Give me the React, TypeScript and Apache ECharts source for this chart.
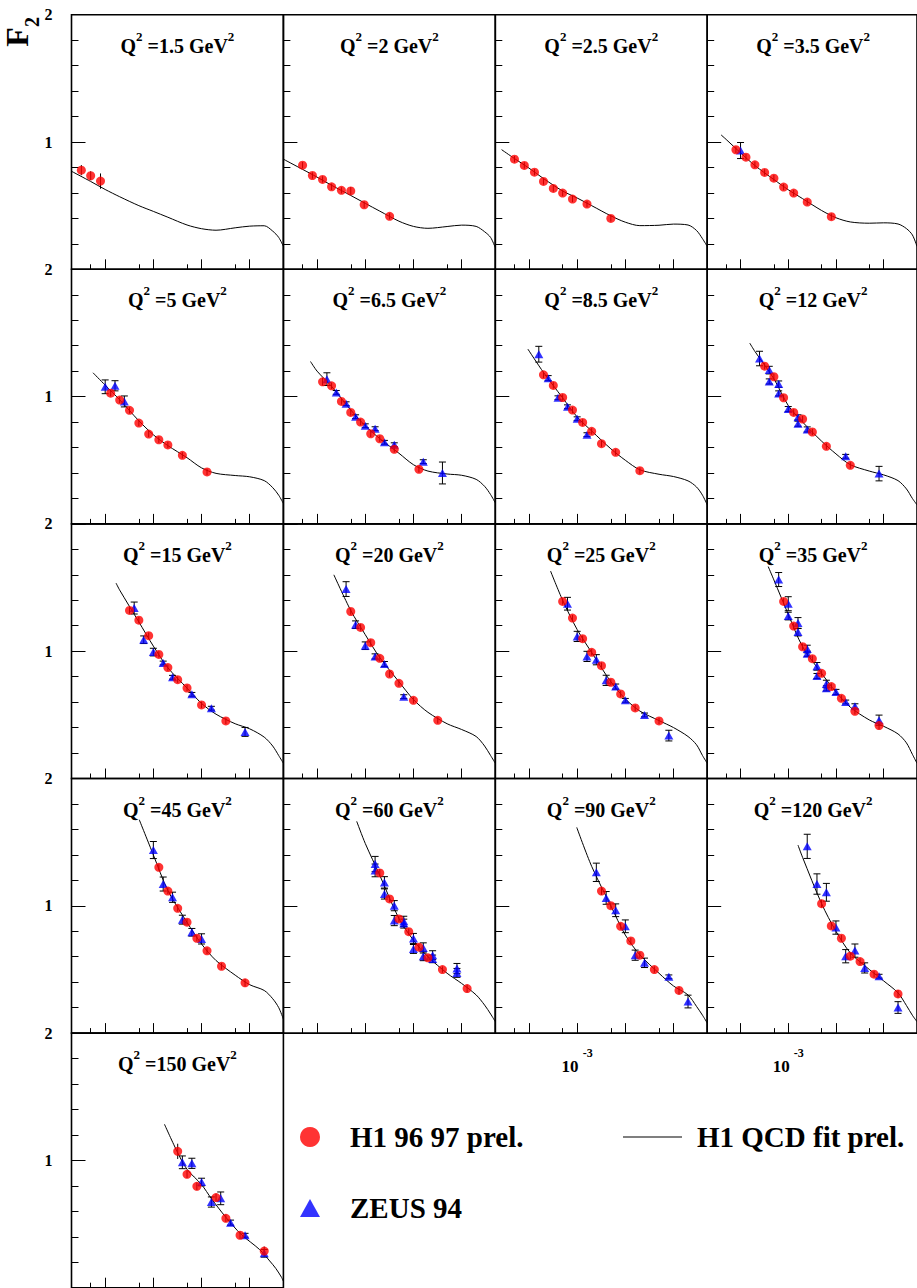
import React, { useEffect, useRef } from 'react';
import * as echarts from 'echarts';

// ---------- axis definitions ----------
const X_MIN = 2e-5;
const X_MAX = 0.5;
const X_MAJOR_TICKS = [1e-4, 1e-3, 1e-2, 1e-1];
const X_MINOR_TICKS = [5e-5, 5e-4, 5e-3, 5e-2];
const X_LABEL_TICKS = [1e-3];
const Y_MIN = 0;
const Y_MAX = 2;
const Y_MAJOR_STEP = 1;
const Y_MINOR_SPLIT = 5;

// ---------- data: [x, F2, error] for points, [x, F2] for the fit ----------
const H1_1_5 = [[3.2e-5, 0.779, 0.04], [5e-5, 0.735, 0.035], [8e-5, 0.693, 0.06]];
const ZEUS_1_5: number[][] = [];
const FIT_1_5 = [[2e-5, 0.77], [5e-5, 0.69], [1e-4, 0.627], [2e-4, 0.57], [5e-4, 0.5], [1e-3, 0.455], [2e-3, 0.409], [5e-3, 0.348], [1e-2, 0.319], [2e-2, 0.307], [5e-2, 0.326], [0.1, 0.339], [0.2, 0.342], [0.3, 0.3], [0.4, 0.25], [0.5, 0.18]];

const H1_2 = [[5e-5, 0.818, 0.025], [8e-5, 0.737, 0.025], [1.3e-4, 0.706, 0.025], [2e-4, 0.648, 0.025], [3.2e-4, 0.62, 0.025], [5e-4, 0.616, 0.03], [9.5e-4, 0.507, 0.025], [3.2e-3, 0.416, 0.025]];
const ZEUS_2: number[][] = [];
const FIT_2 = [[2e-5, 0.865], [5e-5, 0.785], [1e-4, 0.724], [2e-4, 0.66], [5e-4, 0.58], [1e-3, 0.518], [2e-3, 0.457], [5e-3, 0.378], [1e-2, 0.337], [2e-2, 0.322], [5e-2, 0.336], [0.1, 0.347], [0.2, 0.337], [0.3, 0.295], [0.4, 0.25], [0.5, 0.17]];

const H1_2_5 = [[5e-5, 0.865, 0.025], [8e-5, 0.816, 0.025], [1.3e-4, 0.763, 0.025], [2e-4, 0.69, 0.025], [3.2e-4, 0.635, 0.025], [5e-4, 0.599, 0.025], [8e-4, 0.552, 0.025], [1.6e-3, 0.512, 0.025], [5e-3, 0.4, 0.025]];
const ZEUS_2_5: number[][] = [];
const FIT_2_5 = [[2.7e-5, 0.94], [5e-5, 0.87], [1e-4, 0.795], [2e-4, 0.713], [5e-4, 0.615], [1e-3, 0.56], [2e-3, 0.5], [5e-3, 0.42], [1e-2, 0.37], [2e-2, 0.343], [5e-2, 0.346], [0.1, 0.355], [0.2, 0.348], [0.3, 0.305], [0.4, 0.24], [0.5, 0.18]];

const H1_3_5 = [[8e-5, 0.939, 0.025], [1.3e-4, 0.881, 0.025], [2e-4, 0.821, 0.025], [3.2e-4, 0.761, 0.025], [5e-4, 0.716, 0.025], [8e-4, 0.646, 0.025], [1.3e-3, 0.599, 0.025], [2.5e-3, 0.528, 0.025], [8e-3, 0.413, 0.025]];
const ZEUS_3_5 = [[1e-4, 0.933, 0.063]];
const FIT_3_5 = [[3.9e-5, 1.056], [5e-5, 1.02], [1e-4, 0.915], [2e-4, 0.815], [5e-4, 0.705], [1e-3, 0.625], [2e-3, 0.555], [5e-3, 0.462], [1e-2, 0.405], [2e-2, 0.372], [5e-2, 0.362], [0.1, 0.365], [0.2, 0.356], [0.3, 0.32], [0.4, 0.27], [0.5, 0.18]];

const H1_5 = [[1.3e-4, 1.027, 0.025], [2e-4, 0.973, 0.025], [3.2e-4, 0.892, 0.025], [5e-4, 0.792, 0.025], [8e-4, 0.706, 0.025], [1.3e-3, 0.661, 0.025], [2e-3, 0.62, 0.025], [4e-3, 0.539, 0.025], [1.3e-2, 0.408, 0.025]];
const ZEUS_5 = [[1e-4, 1.077, 0.054], [1.6e-4, 1.085, 0.04], [2.5e-4, 0.962, 0.043]];
const FIT_5 = [[5.6e-5, 1.187], [1e-4, 1.09], [2e-4, 0.975], [5e-4, 0.81], [1e-3, 0.7], [2e-3, 0.615], [5e-3, 0.52], [1e-2, 0.44], [2e-2, 0.397], [5e-2, 0.38], [0.1, 0.37], [0.2, 0.34], [0.3, 0.285], [0.4, 0.225], [0.5, 0.16]];

const H1_6_5 = [[1.3e-4, 1.116, 0.03], [2e-4, 1.085, 0.025], [3.2e-4, 0.962, 0.025], [5e-4, 0.876, 0.025], [8e-4, 0.8, 0.025], [1.3e-3, 0.708, 0.025], [2e-3, 0.669, 0.025], [4e-3, 0.586, 0.025], [1.3e-2, 0.429, 0.025]];
const ZEUS_6_5 = [[1.6e-4, 1.137, 0.05], [2.5e-4, 1.033, 0.015], [4e-4, 0.944, 0.015], [6.3e-4, 0.842, 0.015], [1e-3, 0.771, 0.015], [1.6e-3, 0.748, 0.015], [2.5e-3, 0.641, 0.015], [4e-3, 0.622, 0.015], [1.6e-2, 0.489, 0.015], [4e-2, 0.4, 0.086]];
const FIT_6_5 = [[7.3e-5, 1.276], [1e-4, 1.2], [2e-4, 1.08], [5e-4, 0.895], [1e-3, 0.771], [2e-3, 0.67], [5e-3, 0.555], [1e-2, 0.465], [2e-2, 0.415], [5e-2, 0.392], [0.1, 0.382], [0.2, 0.35], [0.3, 0.295], [0.4, 0.23], [0.5, 0.165]];

const H1_8_5 = [[2e-4, 1.171, 0.025], [3.2e-4, 1.088, 0.025], [5e-4, 0.993, 0.025], [8e-4, 0.894, 0.025], [1.3e-3, 0.797, 0.025], [2e-3, 0.727, 0.025], [3.2e-3, 0.63, 0.025], [6.3e-3, 0.562, 0.025], [2e-2, 0.418, 0.025]];
const ZEUS_8_5 = [[1.6e-4, 1.333, 0.062], [2.5e-4, 1.145, 0.02], [4e-4, 0.991, 0.015], [6.3e-4, 0.92, 0.015], [1e-3, 0.826, 0.015], [1.6e-3, 0.701, 0.015]];
const FIT_8_5 = [[9.5e-5, 1.373], [2e-4, 1.19], [5e-4, 0.99], [1e-3, 0.84], [2e-3, 0.73], [5e-3, 0.59], [1e-2, 0.5], [2e-2, 0.425], [5e-2, 0.39], [0.1, 0.372], [0.2, 0.338], [0.3, 0.29], [0.4, 0.225], [0.5, 0.15]];

const H1_12 = [[3.2e-4, 1.239, 0.025], [5e-4, 1.156, 0.025], [8e-4, 0.991, 0.025], [1.3e-3, 0.876, 0.025], [2e-3, 0.824, 0.025], [3.2e-3, 0.722, 0.025], [6.3e-3, 0.609, 0.025], [2e-2, 0.46, 0.025]];
const ZEUS_12 = [[2.5e-4, 1.299, 0.057], [4e-4, 1.208, 0.03], [4e-4, 1.119, 0.02], [6.3e-4, 1.098, 0.025], [6.3e-4, 1.025, 0.02], [1e-3, 0.902, 0.02], [1.6e-3, 0.837, 0.02], [1.6e-3, 0.787, 0.02], [2.5e-3, 0.742, 0.02], [1.6e-2, 0.531, 0.015], [8e-2, 0.395, 0.057]];
const FIT_12 = [[1.56e-4, 1.42], [2e-4, 1.355], [5e-4, 1.14], [1e-3, 0.93], [2e-3, 0.8], [5e-3, 0.65], [1e-2, 0.55], [2e-2, 0.465], [5e-2, 0.415], [0.1, 0.385], [0.2, 0.34], [0.3, 0.275], [0.4, 0.2], [0.5, 0.15]];

const H1_15 = [[3.2e-4, 1.32, 0.025], [5e-4, 1.244, 0.025], [8e-4, 1.122, 0.025], [1.3e-3, 0.975, 0.025], [2e-3, 0.871, 0.025], [3.2e-3, 0.776, 0.025], [5e-3, 0.711, 0.025], [1e-2, 0.578, 0.025], [3.2e-2, 0.452, 0.025]];
const ZEUS_15 = [[4e-4, 1.339, 0.047], [6.3e-4, 1.09, 0.03], [1e-3, 0.993, 0.03], [1.6e-3, 0.907, 0.015], [2.5e-3, 0.795, 0.015], [6.3e-3, 0.661, 0.015], [1.6e-2, 0.552, 0.015], [8e-2, 0.366, 0.035]];
const FIT_15 = [[1.68e-4, 1.535], [2e-4, 1.48], [5e-4, 1.23], [1e-3, 1.04], [2e-3, 0.87], [5e-3, 0.71], [1e-2, 0.59], [2e-2, 0.505], [5e-2, 0.43], [0.1, 0.39], [0.2, 0.325], [0.3, 0.255], [0.4, 0.18], [0.5, 0.12]];

const H1_20 = [[5e-4, 1.312, 0.025], [8e-4, 1.187, 0.025], [1.3e-3, 1.067, 0.025], [2e-3, 0.944, 0.025], [3.2e-3, 0.821, 0.025], [5e-3, 0.748, 0.025], [1e-2, 0.614, 0.025], [3.2e-2, 0.457, 0.025]];
const ZEUS_20 = [[4e-4, 1.488, 0.058], [6.3e-4, 1.208, 0.03], [1e-3, 1.043, 0.03], [1.6e-3, 0.959, 0.02], [2.5e-3, 0.899, 0.02], [6.3e-3, 0.643, 0.015]];
const FIT_20 = [[2.23e-4, 1.6], [5e-4, 1.32], [1e-3, 1.13], [2e-3, 0.95], [5e-3, 0.76], [1e-2, 0.62], [2e-2, 0.52], [5e-2, 0.43], [0.1, 0.385], [0.2, 0.33], [0.3, 0.255], [0.4, 0.18], [0.5, 0.12]];

const H1_25 = [[5e-4, 1.391, 0.025], [8e-4, 1.26, 0.025], [1.3e-3, 1.098, 0.025], [2e-3, 0.991, 0.025], [3.2e-3, 0.886, 0.025], [5e-3, 0.756, 0.025], [8e-3, 0.664, 0.025], [1.6e-2, 0.554, 0.025], [5e-2, 0.452, 0.025]];
const ZEUS_25 = [[6.3e-4, 1.373, 0.05], [1e-3, 1.116, 0.04], [1.6e-3, 0.959, 0.04], [2.5e-3, 0.933, 0.04], [4e-3, 0.771, 0.04], [6.3e-3, 0.722, 0.02], [1e-2, 0.614, 0.015], [2.5e-2, 0.499, 0.015], [8e-2, 0.337, 0.042]];
const FIT_25 = [[2.8e-4, 1.63], [5e-4, 1.4], [1e-3, 1.17], [2e-3, 0.99], [5e-3, 0.76], [1e-2, 0.625], [2e-2, 0.53], [5e-2, 0.455], [0.1, 0.4], [0.2, 0.33], [0.3, 0.265], [0.4, 0.18], [0.5, 0.12]];

const H1_35 = [[8e-4, 1.391, 0.025], [1.3e-3, 1.197, 0.025], [2e-3, 1.035, 0.025], [3.2e-3, 0.941, 0.025], [5e-3, 0.826, 0.025], [8e-3, 0.722, 0.025], [1.3e-2, 0.63, 0.025], [2.5e-2, 0.528, 0.025], [8e-2, 0.416, 0.03]];
const ZEUS_35 = [[6.3e-4, 1.563, 0.055], [1e-3, 1.373, 0.055], [1e-3, 1.276, 0.03], [1.6e-3, 1.221, 0.043], [1.6e-3, 1.15, 0.03], [2.5e-3, 1.017, 0.03], [2.5e-3, 0.98, 0.02], [4e-3, 0.881, 0.03], [4e-3, 0.805, 0.02], [6.3e-3, 0.742, 0.03], [6.3e-3, 0.708, 0.02], [1e-2, 0.68, 0.02], [1.6e-2, 0.601, 0.015], [2.5e-2, 0.567, 0.02], [8e-2, 0.458, 0.04]];
const FIT_35 = [[3.8e-4, 1.665], [5e-4, 1.56], [1e-3, 1.29], [2e-3, 1.035], [5e-3, 0.826], [1e-2, 0.68], [2e-2, 0.56], [5e-2, 0.46], [0.1, 0.41], [0.2, 0.35], [0.3, 0.28], [0.4, 0.19], [0.5, 0.12]];

const H1_45 = [[1.3e-3, 1.302, 0.025], [2e-3, 1.116, 0.025], [3.2e-3, 0.98, 0.025], [5e-3, 0.871, 0.025], [8e-3, 0.745, 0.025], [1.3e-2, 0.646, 0.025], [2.6e-2, 0.525, 0.025], [8e-2, 0.395, 0.03]];
const ZEUS_45 = [[1e-3, 1.438, 0.067], [1.6e-3, 1.171, 0.055], [2.5e-3, 1.067, 0.04], [4e-3, 0.891, 0.035], [6.3e-3, 0.792, 0.03], [1e-2, 0.74, 0.04]];
const FIT_45 = [[5.1e-4, 1.676], [1e-3, 1.4], [2e-3, 1.12], [5e-3, 0.87], [1e-2, 0.7], [2e-2, 0.57], [5e-2, 0.455], [0.1, 0.38], [0.2, 0.335], [0.3, 0.27], [0.4, 0.2], [0.5, 0.11]];

const H1_60 = [[2e-3, 1.258, 0.03], [3.2e-3, 1.054, 0.025], [5e-3, 0.897, 0.025], [8e-3, 0.797, 0.025], [1.3e-2, 0.675, 0.025], [2e-2, 0.591, 0.025], [4e-2, 0.499, 0.025], [0.13, 0.35, 0.03]];
const ZEUS_60 = [[1.6e-3, 1.328, 0.06], [1.6e-3, 1.278, 0.05], [2.5e-3, 1.184, 0.045], [2.5e-3, 1.093, 0.04], [4e-3, 1.001, 0.04], [4e-3, 0.884, 0.04], [6.3e-3, 0.878, 0.04], [6.3e-3, 0.86, 0.035], [1e-2, 0.743, 0.04], [1e-2, 0.661, 0.035], [1.6e-2, 0.669, 0.04], [1.6e-2, 0.604, 0.035], [2.5e-2, 0.612, 0.035], [2.5e-2, 0.583, 0.03], [8e-2, 0.507, 0.04], [8e-2, 0.473, 0.035]];
const FIT_60 = [[6.65e-4, 1.663], [1e-3, 1.49], [2e-3, 1.24], [5e-3, 0.9], [1e-2, 0.73], [2e-2, 0.6], [5e-2, 0.47], [0.1, 0.39], [0.2, 0.3], [0.3, 0.22], [0.4, 0.15], [0.5, 0.09]];

const H1_90 = [[3.2e-3, 1.116, 0.03], [5e-3, 1.001, 0.025], [8e-3, 0.839, 0.025], [1.3e-2, 0.724, 0.025], [2e-2, 0.612, 0.025], [4e-2, 0.499, 0.025], [0.13, 0.335, 0.03]];
const ZEUS_90 = [[2.5e-3, 1.263, 0.072], [4e-3, 1.062, 0.05], [6.3e-3, 0.965, 0.05], [1e-2, 0.839, 0.05], [1.6e-2, 0.612, 0.04], [2.5e-2, 0.552, 0.037], [8e-2, 0.442, 0.015], [0.2, 0.248, 0.05]];
const FIT_90 = [[9.8e-4, 1.616], [2e-3, 1.31], [5e-3, 1.0], [1e-2, 0.77], [2e-2, 0.615], [5e-2, 0.47], [0.1, 0.37], [0.2, 0.3], [0.3, 0.21], [0.4, 0.14], [0.5, 0.08]];

const H1_120 = [[5e-3, 1.017, 0.03], [8e-3, 0.842, 0.025], [1.3e-2, 0.745, 0.025], [2e-2, 0.604, 0.025], [3.2e-2, 0.562, 0.025], [6.3e-2, 0.463, 0.025], [0.2, 0.308, 0.03]];
const ZEUS_120 = [[2.5e-3, 1.467, 0.095], [4e-3, 1.171, 0.08], [6.3e-3, 1.106, 0.07], [1e-2, 0.829, 0.052], [1.6e-2, 0.604, 0.052], [2.5e-2, 0.648, 0.052], [4e-2, 0.512, 0.04], [8e-2, 0.447, 0.015], [0.2, 0.201, 0.046]];
const FIT_120 = [[1.6e-3, 1.477], [2e-3, 1.38], [5e-3, 1.017], [1e-2, 0.8], [2e-2, 0.63], [5e-2, 0.5], [0.1, 0.41], [0.2, 0.316], [0.3, 0.217], [0.4, 0.14], [0.5, 0.09]];

const H1_150 = [[3.2e-3, 1.071, 0.06], [5e-3, 0.891, 0.03], [8e-3, 0.796, 0.03], [2e-2, 0.708, 0.03], [3.2e-2, 0.545, 0.03], [6.3e-2, 0.412, 0.03], [0.2, 0.288, 0.035]];
const ZEUS_150 = [[4e-3, 0.985, 0.05], [6.3e-3, 0.977, 0.04], [1e-2, 0.83, 0.03], [1.6e-2, 0.673, 0.04], [2.5e-2, 0.702, 0.05], [4e-2, 0.511, 0.02], [8e-2, 0.412, 0.015], [0.2, 0.27, 0.03]];
const FIT_150 = [[1.7e-3, 1.284], [3.2e-3, 1.06], [5e-3, 0.93], [1e-2, 0.81], [1.6e-2, 0.7], [3.2e-2, 0.553], [6.6e-2, 0.42], [0.16, 0.3], [0.26, 0.21], [0.35, 0.15], [0.46, 0.08], [0.5, 0.05]];

const Q2_VALUES = ['1.5', '2', '2.5', '3.5', '5', '6.5', '8.5', '12', '15', '20', '25', '35', '45', '60', '90', '120', '150'];
const H1_SETS = [H1_1_5, H1_2, H1_2_5, H1_3_5, H1_5, H1_6_5, H1_8_5, H1_12, H1_15, H1_20, H1_25, H1_35, H1_45, H1_60, H1_90, H1_120, H1_150];
const ZEUS_SETS = [ZEUS_1_5, ZEUS_2, ZEUS_2_5, ZEUS_3_5, ZEUS_5, ZEUS_6_5, ZEUS_8_5, ZEUS_12, ZEUS_15, ZEUS_20, ZEUS_25, ZEUS_35, ZEUS_45, ZEUS_60, ZEUS_90, ZEUS_120, ZEUS_150];
const FIT_SETS = [FIT_1_5, FIT_2, FIT_2_5, FIT_3_5, FIT_5, FIT_6_5, FIT_8_5, FIT_12, FIT_15, FIT_20, FIT_25, FIT_35, FIT_45, FIT_60, FIT_90, FIT_120, FIT_150];
const X_LABEL_PANELS = [14, 15];

const H1_NAME = 'H1 96 97 prel.';
const ZEUS_NAME = 'ZEUS 94';
const FIT_NAME = 'H1 QCD fit prel.';

// ---------- layout ----------
const FONT = '"Liberation Serif", "Times New Roman", serif';
const GRID_LEFT0 = 71.5;
const COL_W = 211.9;
const GRID_TOP0 = 14.7;
const ROW_H = 254.6;
const BLACK = '#000000';
const RED = '#ff0000';
const BLUE = '#0000ff';

const lg = (v: number) => Math.log10(v);

const errRender = (cap: number) => (params: any, api: any) => {
  const x = api.value(0);
  const y = api.value(1);
  const e = api.value(2);
  const hi = api.coord([x, y + e]);
  const lo = api.coord([x, y - e]);
  const style = { stroke: BLACK, lineWidth: 1, fill: 'none' };
  const children: any[] = [
    { type: 'line', shape: { x1: hi[0], y1: hi[1], x2: lo[0], y2: lo[1] }, style },
  ];
  if (cap > 0) {
    children.push({ type: 'line', shape: { x1: hi[0] - cap, y1: hi[1], x2: hi[0] + cap, y2: hi[1] }, style });
    children.push({ type: 'line', shape: { x1: lo[0] - cap, y1: lo[1], x2: lo[0] + cap, y2: lo[1] }, style });
  }
  return { type: 'group', children };
};

function buildOption() {
  const grid: any[] = [];
  const xAxis: any[] = [];
  const yAxis: any[] = [];
  const series: any[] = [];
  const graphic: any[] = [];
  const tickLine = { color: BLACK, width: 1 };

  Q2_VALUES.forEach((q2, i) => {
    const col = i % 4;
    const row = Math.floor(i / 4);
    const left = GRID_LEFT0 + col * COL_W;
    const top = GRID_TOP0 + row * ROW_H;
    const gMain = 2 * i;
    const gMinor = 2 * i + 1;

    grid.push({ left, top, width: COL_W, height: ROW_H, show: true, borderColor: BLACK, borderWidth: 1.6, backgroundColor: 'transparent' });
    grid.push({ left, top, width: COL_W, height: ROW_H, show: false });

    xAxis.push({
      gridIndex: gMain,
      type: 'value',
      min: lg(X_MIN),
      max: lg(X_MAX),
      axisLine: { show: false },
      splitLine: { show: false },
      axisTick: { show: true, inside: true, length: 10, customValues: X_MAJOR_TICKS.map(lg), lineStyle: tickLine },
      axisLabel: {
        show: X_LABEL_PANELS.includes(i),
        customValues: X_LABEL_TICKS.map(lg),
        margin: 14,
        formatter: (v: number) => `{b|10 }{s|${Math.round(v)}}`,
        rich: {
          b: { fontFamily: FONT, fontWeight: 'bold', fontSize: 17, color: BLACK, lineHeight: 28, verticalAlign: 'bottom' },
          s: { fontFamily: FONT, fontWeight: 'bold', fontSize: 12, color: BLACK, lineHeight: 12, verticalAlign: 'top' },
        },
      },
    });
    xAxis.push({
      gridIndex: gMinor,
      type: 'value',
      min: lg(X_MIN),
      max: lg(X_MAX),
      axisLine: { show: false },
      splitLine: { show: false },
      axisLabel: { show: false },
      axisTick: { show: true, inside: true, length: 5, customValues: X_MINOR_TICKS.map(lg), lineStyle: tickLine },
    });
    yAxis.push({
      gridIndex: gMain,
      type: 'value',
      min: Y_MIN,
      max: Y_MAX,
      interval: Y_MAJOR_STEP,
      axisLine: { show: false },
      splitLine: { show: false },
      axisTick: { show: true, inside: true, length: 14, lineStyle: tickLine },
      minorTick: { show: true, splitNumber: Y_MINOR_SPLIT, length: 7, lineStyle: tickLine },
      minorSplitLine: { show: false },
      axisLabel: {
        show: col === 0,
        margin: 19,
        fontFamily: FONT,
        fontWeight: 'bold',
        fontSize: 16,
        color: BLACK,
        formatter: (v: number) => (v === 0 ? '' : String(v)),
      },
    });
    yAxis.push({ gridIndex: gMinor, type: 'value', min: Y_MIN, max: Y_MAX, show: false });

    series.push({
      type: 'line',
      name: FIT_NAME,
      xAxisIndex: gMain,
      yAxisIndex: gMain,
      data: FIT_SETS[i].map(([x, y]) => [lg(x), y]),
      symbol: 'none',
      showSymbol: false,
      smooth: 0.3,
      lineStyle: { color: BLACK, width: 1 },
      itemStyle: { color: BLACK },
      silent: true,
      z: 2,
    });
    series.push({
      type: 'custom',
      name: 'ZEUS errors',
      xAxisIndex: gMain,
      yAxisIndex: gMain,
      data: ZEUS_SETS[i].map(([x, y, e]) => [lg(x), y, e]),
      encode: { x: 0, y: 1 },
      renderItem: errRender(3.5),
      silent: true,
      z: 3,
    });
    series.push({
      type: 'custom',
      name: 'H1 errors',
      xAxisIndex: gMain,
      yAxisIndex: gMain,
      data: H1_SETS[i].map(([x, y, e]) => [lg(x), y, e]),
      encode: { x: 0, y: 1 },
      renderItem: errRender(0),
      silent: true,
      z: 3,
    });
    series.push({
      type: 'scatter',
      name: ZEUS_NAME,
      xAxisIndex: gMain,
      yAxisIndex: gMain,
      data: ZEUS_SETS[i].map(([x, y]) => [lg(x), y]),
      symbol: 'triangle',
      symbolSize: [9, 8],
      itemStyle: { color: BLUE },
      silent: true,
      z: 4,
    });
    series.push({
      type: 'scatter',
      name: H1_NAME,
      xAxisIndex: gMain,
      yAxisIndex: gMain,
      data: H1_SETS[i].map(([x, y]) => [lg(x), y]),
      symbol: 'circle',
      symbolSize: 9,
      itemStyle: { color: RED },
      silent: true,
      z: 5,
    });

    graphic.push({
      type: 'text',
      x: left + COL_W / 2,
      y: top + 28,
      style: {
        text: `{b|Q}{s|2}{b| =${q2} GeV}{s|2}`,
        fill: BLACK,
        align: 'center',
        verticalAlign: 'middle',
        textAlign: 'center',
        textVerticalAlign: 'middle',
        rich: {
          b: { fontFamily: FONT, fontWeight: 'bold', fontSize: 20, fill: BLACK, lineHeight: 26, verticalAlign: 'bottom' },
          s: { fontFamily: FONT, fontWeight: 'bold', fontSize: 13, fill: BLACK, lineHeight: 14, verticalAlign: 'top' },
        },
      },
    });
  });

  // y-axis title F2 (rotated)
  graphic.push({
    type: 'text',
    x: 17,
    y: 37,
    rotation: Math.PI / 2,
    style: { text: 'F', fontFamily: FONT, fontWeight: 'bold', fontSize: 32, fill: BLACK, align: 'center', verticalAlign: 'middle', textAlign: 'center', textVerticalAlign: 'middle' },
  });
  graphic.push({
    type: 'text',
    x: 32,
    y: 22,
    rotation: Math.PI / 2,
    style: { text: '2', fontFamily: FONT, fontWeight: 'bold', fontSize: 20, fill: BLACK, align: 'center', verticalAlign: 'middle', textAlign: 'center', textVerticalAlign: 'middle' },
  });

  const legendText = { fontFamily: FONT, fontWeight: 'bold', fontSize: 29, color: BLACK, lineHeight: 30 };
  const legend = [
    { data: [{ name: H1_NAME, icon: 'circle' }], left: 300, top: 1122, padding: 0, itemWidth: 20, itemHeight: 20, selectedMode: false, textStyle: { ...legendText, padding: [0, 0, 0, 25] } },
    { data: [{ name: ZEUS_NAME, icon: 'triangle' }], left: 300, top: 1193, padding: 0, itemWidth: 20, itemHeight: 18, selectedMode: false, textStyle: { ...legendText, padding: [0, 0, 0, 25] } },
    { data: [{ name: FIT_NAME, icon: 'rect' }], left: 623, top: 1122, padding: 0, itemWidth: 59, itemHeight: 1.2, selectedMode: false, textStyle: { ...legendText, padding: [0, 0, 0, 10] } },
  ];

  return {
    animation: false,
    backgroundColor: '#ffffff',
    grid,
    xAxis,
    yAxis,
    series,
    graphic,
    legend,
  };
}

export default function App() {
  const ref = useRef<HTMLDivElement>(null);
  useEffect(() => {
    document.body.style.margin = '0';
    const chart = echarts.init(ref.current as HTMLDivElement, null, { renderer: 'svg' });
    chart.setOption(buildOption() as any);
    return () => chart.dispose();
  }, []);
  return <div ref={ref} style={{ width: 917, height: 1288 }} />;
}
